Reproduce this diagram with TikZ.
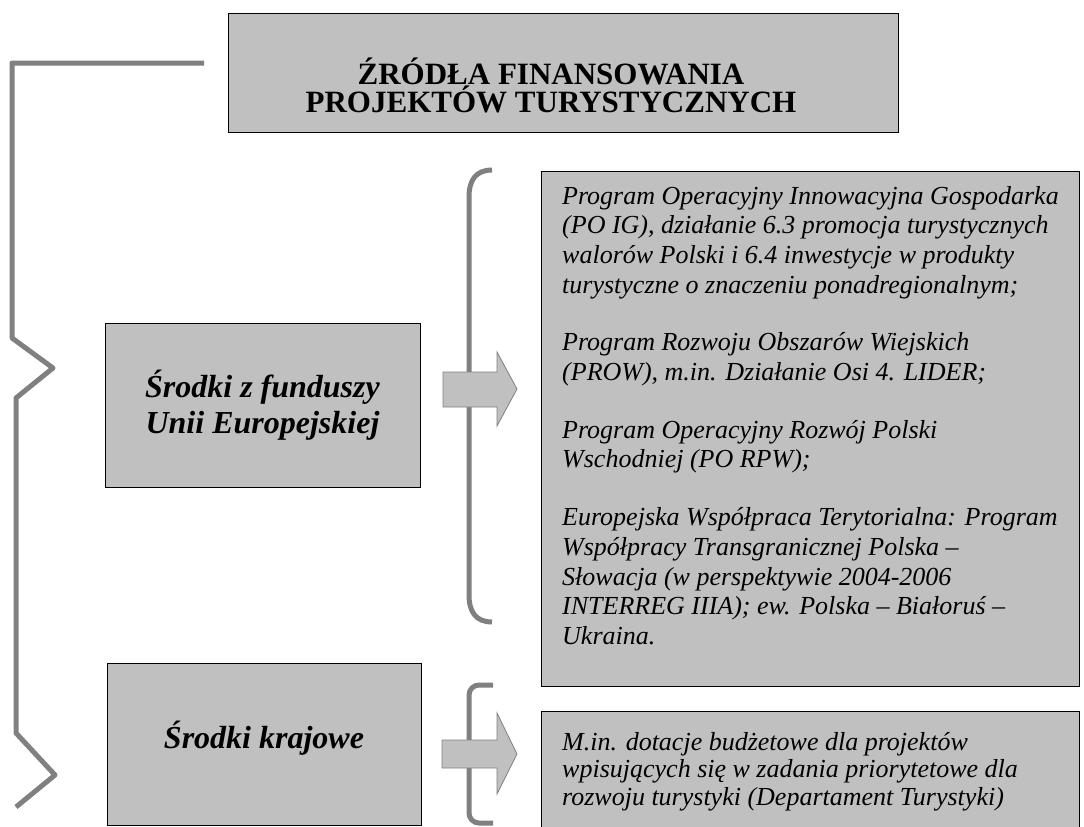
\documentclass[tikz,border=0pt]{standalone}
\usepackage{fontspec}
\setmainfont{Liberation Serif}
\definecolor{boxfill}{RGB}{192,192,192}
\definecolor{brk}{RGB}{128,128,128}
\begin{document}
\begin{tikzpicture}[x=1pt,y=-1pt,
  box/.style={draw=black, line width=1.2pt, fill=boxfill, inner sep=0pt, anchor=north west},
  brace/.style={draw=brk, line width=5pt},
  barrow/.style={draw=brk, line width=0.8pt, fill=boxfill, line join=miter},
  title/.style={inner sep=0pt, anchor=base, font=\fontsize{31}{29}\selectfont\bfseries},
  side/.style={inner sep=0pt, anchor=base, font=\fontsize{32}{36.5}\selectfont\bfseries\itshape},
  txt/.style={inner sep=0pt, anchor=base west}]
\useasboundingbox (0,0) rectangle (1084,827);
\clip (0,0) rectangle (1084,827);

% boxes
\node[box, minimum width=670pt, minimum height=119pt] (topbox) at (228,13) {};
\node[box, minimum width=315pt, minimum height=164pt] (eubox) at (105,323) {};
\node[box, minimum width=314pt, minimum height=162pt] (krbox) at (107,663) {};
\node[box, minimum width=538pt, minimum height=515pt] (eulist) at (541,171) {};
\node[box, minimum width=538pt, minimum height=130pt] (krlist) at (541,711) {};

% big left bracket
\draw[brace, line join=round] (204,63) -- (12,63) -- (12,338) -- (53,368) -- (16,398)
  -- (16,733) -- (55,775) -- (16,807);

% brackets before lists
\draw[brace] (492,170) .. controls (476,170) and (469,180) .. (469,197) -- (469,595)
  .. controls (469,612) and (476,622) .. (492,622);
\draw[brace, rounded corners=10pt] (493,685) -- (469,685) -- (469,823) -- (493,823);

% block arrows
\draw[barrow] (443,372) -- (497,372) -- (497,352) -- (517,389) -- (497,426) -- (497,407) -- (443,407) -- cycle;
\draw[barrow] (442,740) -- (497,740) -- (497,713) -- (517,754) -- (497,794) -- (497,768) -- (442,768) -- cycle;

% texts
\node[title] (t1) at (551,84) {ŹRÓDŁA FINANSOWANIA};
\node[title] (t2) at (551,112) {PROJEKTÓW TURYSTYCZNYCH};

\node[side] (e1) at (262.5,397) {Środki z funduszy};
\node[side] (e2) at (262.5,433.5) {Unii Europejskiej};
\node[side] (k1) at (264,748) {Środki krajowe};

\node[txt] (eutext) at (562,204) {\parbox[t]{560pt}{\fontsize{26}{29.7}\selectfont\itshape\raggedright
Program Operacyjny Innowacyjna Gospodarka\\
(PO IG), działanie 6.3 promocja turystycznych\\
walorów Polski i 6.4 inwestycje w produkty\\
turystyczne o znaczeniu ponadregionalnym;\\[28pt]
Program Rozwoju Obszarów Wiejskich\\
(PROW), m.in. Działanie Osi 4. LIDER;\\[28pt]
Program Operacyjny Rozwój Polski\\
Wschodniej (PO RPW);\\[28pt]
Europejska Współpraca Terytorialna: Program\\
Współpracy Transgranicznej Polska –\\
Słowacja (w perspektywie 2004-2006\\
INTERREG IIIA); ew. Polska – Białoruś –\\
Ukraina.}};

\node[txt] (krtext) at (562,750) {\parbox[t]{560pt}{\fontsize{26}{27.5}\selectfont\itshape\raggedright
M.in. dotacje budżetowe dla projektów\\
wpisujących się w zadania priorytetowe dla\\
rozwoju turystyki (Departament Turystyki)}};
\end{tikzpicture}
\end{document}
